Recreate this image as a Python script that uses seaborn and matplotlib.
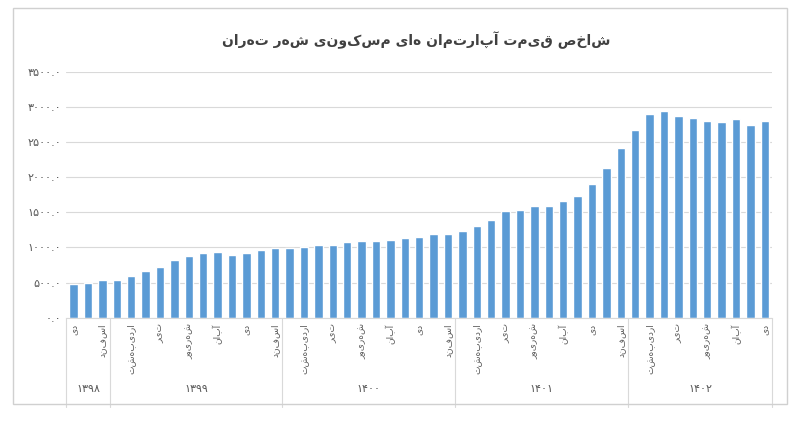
import numpy as np
import pandas as pd
import matplotlib
matplotlib.use("Agg")
import matplotlib.pyplot as plt
import seaborn as sns
from matplotlib.patches import Rectangle

# monthly index values
values = [482, 501, 544,
          544, 596, 662, 728, 823, 875, 918, 932, 899, 918, 960, 998,
          998, 1003, 1031, 1041, 1074, 1093, 1093, 1112, 1140, 1145, 1187, 1187,
          1230, 1301, 1395, 1514, 1537, 1589, 1589, 1660, 1736, 1906, 2133, 2417,
          2668, 2900, 2942, 2867, 2843, 2796, 2777, 2819, 2739, 2800]
months = ["فروردین", "اردیبهشت", "خرداد", "تیر", "مرداد", "شهریور",
          "مهر", "آبان", "آذر", "دی", "بهمن", "اسفند"]
years = ["۱۳۹۸", "۱۳۹۹", "۱۴۰۰", "۱۴۰۱", "۱۴۰۲"]
year_counts = [3, 12, 12, 12, 10]
yticks = [0, 500, 1000, 1500, 2000, 2500, 3000, 3500]
title = "شاخص قیمت آپارتمان های مسکونی شهر تهران"

fa_digits = str.maketrans("0123456789.", "۰۱۲۳۴۵۶۷۸۹.")


def rtl(s):
    return s[::-1]


month_labels = months[9:] + months * 3 + months[:10]
df = pd.DataFrame({"i": np.arange(len(values)), "v": values})

sns.set_style("white")
plt.rcParams["font.family"] = ["DejaVu Sans"]
fig = plt.figure(figsize=(8, 4.21), dpi=100)
fig.patches.append(Rectangle((0.016, 0.04), 0.968, 0.94, transform=fig.transFigure,
                             fill=False, edgecolor="#d0d0d0", lw=1))
ax = fig.add_axes([0.083, 0.245, 0.882, 0.585])
sns.barplot(data=df, x="i", y="v", color="#5B9BD5", width=0.58, saturation=1, ax=ax)
ax.set_ylim(0, 3500)
ax.set_xlim(-0.5, len(values) - 0.5)
ax.set_yticks(yticks)
ax.set_yticklabels([f"{t:.1f}".translate(fa_digits) for t in yticks], fontsize=8, color="#595959")
ax.yaxis.grid(True, color="#d9d9d9", lw=0.8)
ax.set_axisbelow(True)
for s in ["top", "right", "left"]:
    ax.spines[s].set_visible(False)
ax.spines["bottom"].set_color("#d9d9d9")
ax.tick_params(axis="y", length=0)
ax.set_xticks(range(0, len(values), 2))
ax.set_xticklabels([rtl(month_labels[i]) for i in range(0, len(values), 2)],
                   rotation=90, fontsize=6.5, color="#595959", va="top")
ax.tick_params(axis="x", length=0, pad=4)
ax.set_xlabel("")
ax.set_ylabel("")

# year group labels and separators
start = 0
tr = ax.get_xaxis_transform()
ax.plot([-0.5, -0.5], [0, -0.36], transform=tr, color="#d9d9d9", lw=0.8, clip_on=False)
for y, n in zip(years, year_counts):
    end = start + n
    ax.plot([end - 0.5, end - 0.5], [0, -0.36], transform=tr, color="#d9d9d9", lw=0.8, clip_on=False)
    ax.text((start + end - 1) / 2, -0.29, y, transform=tr, ha="center", va="center",
            fontsize=8, color="#595959")
    start = end

fig.text(0.52, 0.905, rtl(title), ha="center", va="center", fontsize=10,
         fontweight="bold", color="#404040")
fig.savefig("out.png", dpi=100)
